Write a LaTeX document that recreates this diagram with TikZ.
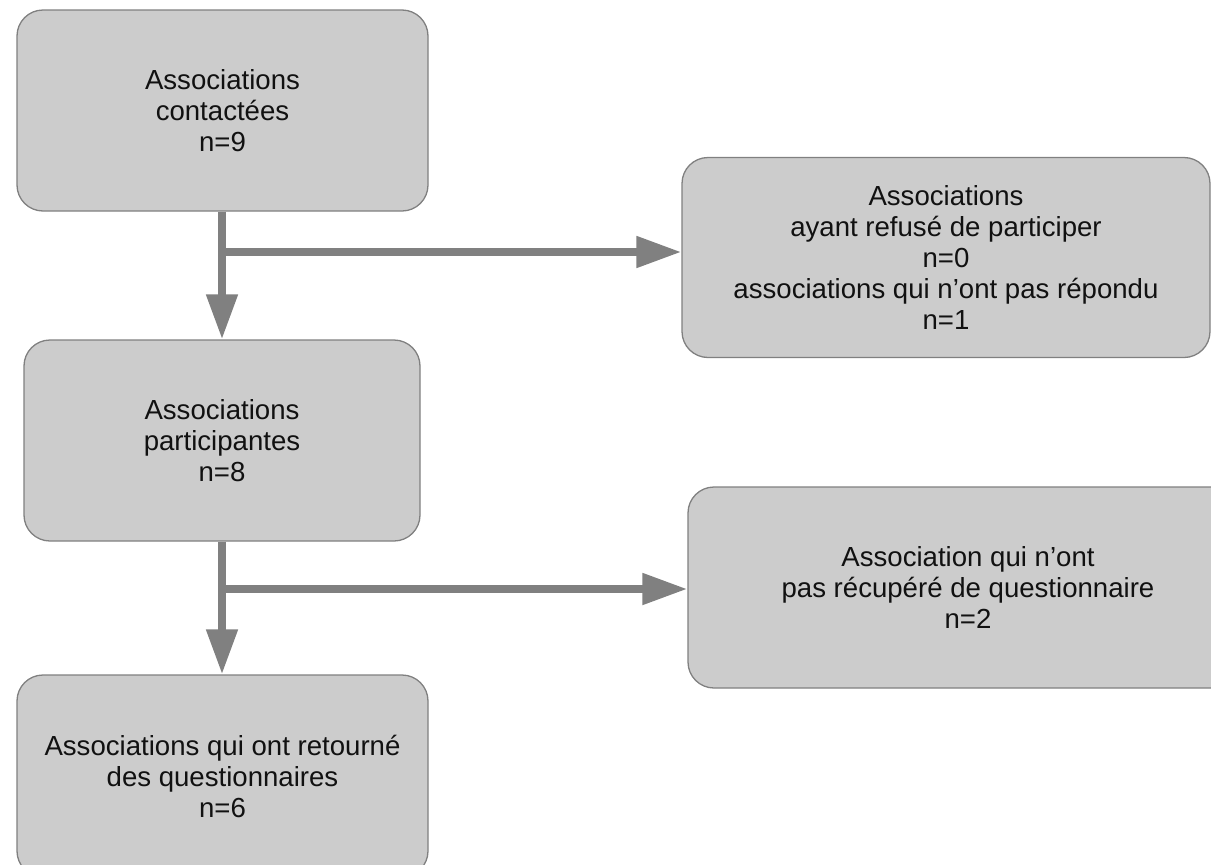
\documentclass[tikz,border=0pt]{standalone}
\usepackage{fontspec}
\setmainfont{Liberation Sans}
\usetikzlibrary{arrows.meta}
\definecolor{boxfill}{HTML}{CCCCCC}
\definecolor{boxline}{HTML}{808080}
\definecolor{arrowc}{HTML}{808080}
\definecolor{txt}{HTML}{111111}
\begin{document}
\begin{tikzpicture}[x=1pt,y=-1pt,
  box/.style={draw=boxline,line width=1.3pt,fill=boxfill,rounded corners=26pt,
    align=center,inner sep=0pt,text=txt,
    font=\fontsize{27.6}{31}\selectfont},
  flow/.style={draw=arrowc,line width=8pt,-{Triangle[length=45pt,width=30pt]}}]
\clip (0,0) rectangle (1211,865);
\useasboundingbox (0,0) rectangle (1211,865);
\node[box,minimum width=411pt,minimum height=201pt] (b1) at (222.5,110.5)
  {Associations\\ contactées\\n=9};
\node[box,minimum width=528pt,minimum height=200pt] (b2) at (946,257.5)
  {Associations\\ayant refusé de participer\\n=0\\ associations qui n’ont pas répondu\\n=1};
\node[box,minimum width=396pt,minimum height=201pt] (b3) at (222,440.5)
  {Associations\\participantes\\n=8};
\node[box,minimum width=560pt,minimum height=201pt] (b4) at (968,587.5)
  {Association qui n’ont\\ pas récupéré de questionnaire\\n=2};
\node[box,minimum width=411pt,minimum height=202pt] (b5) at (222.5,776)
  {Associations qui ont retourné\\des questionnaires\\n=6};
\coordinate (k1) at (222,252);
\coordinate (k2) at (222,589);
\draw[flow] (b1.south -| k1) -- (b3.north -| k1);
\draw[flow] (k1) -- (k1 -| b2.west);
\draw[flow] (b3.south -| k2) -- (b5.north -| k2);
\draw[flow] (k2) -- (k2 -| b4.west);
\end{tikzpicture}
\end{document}
